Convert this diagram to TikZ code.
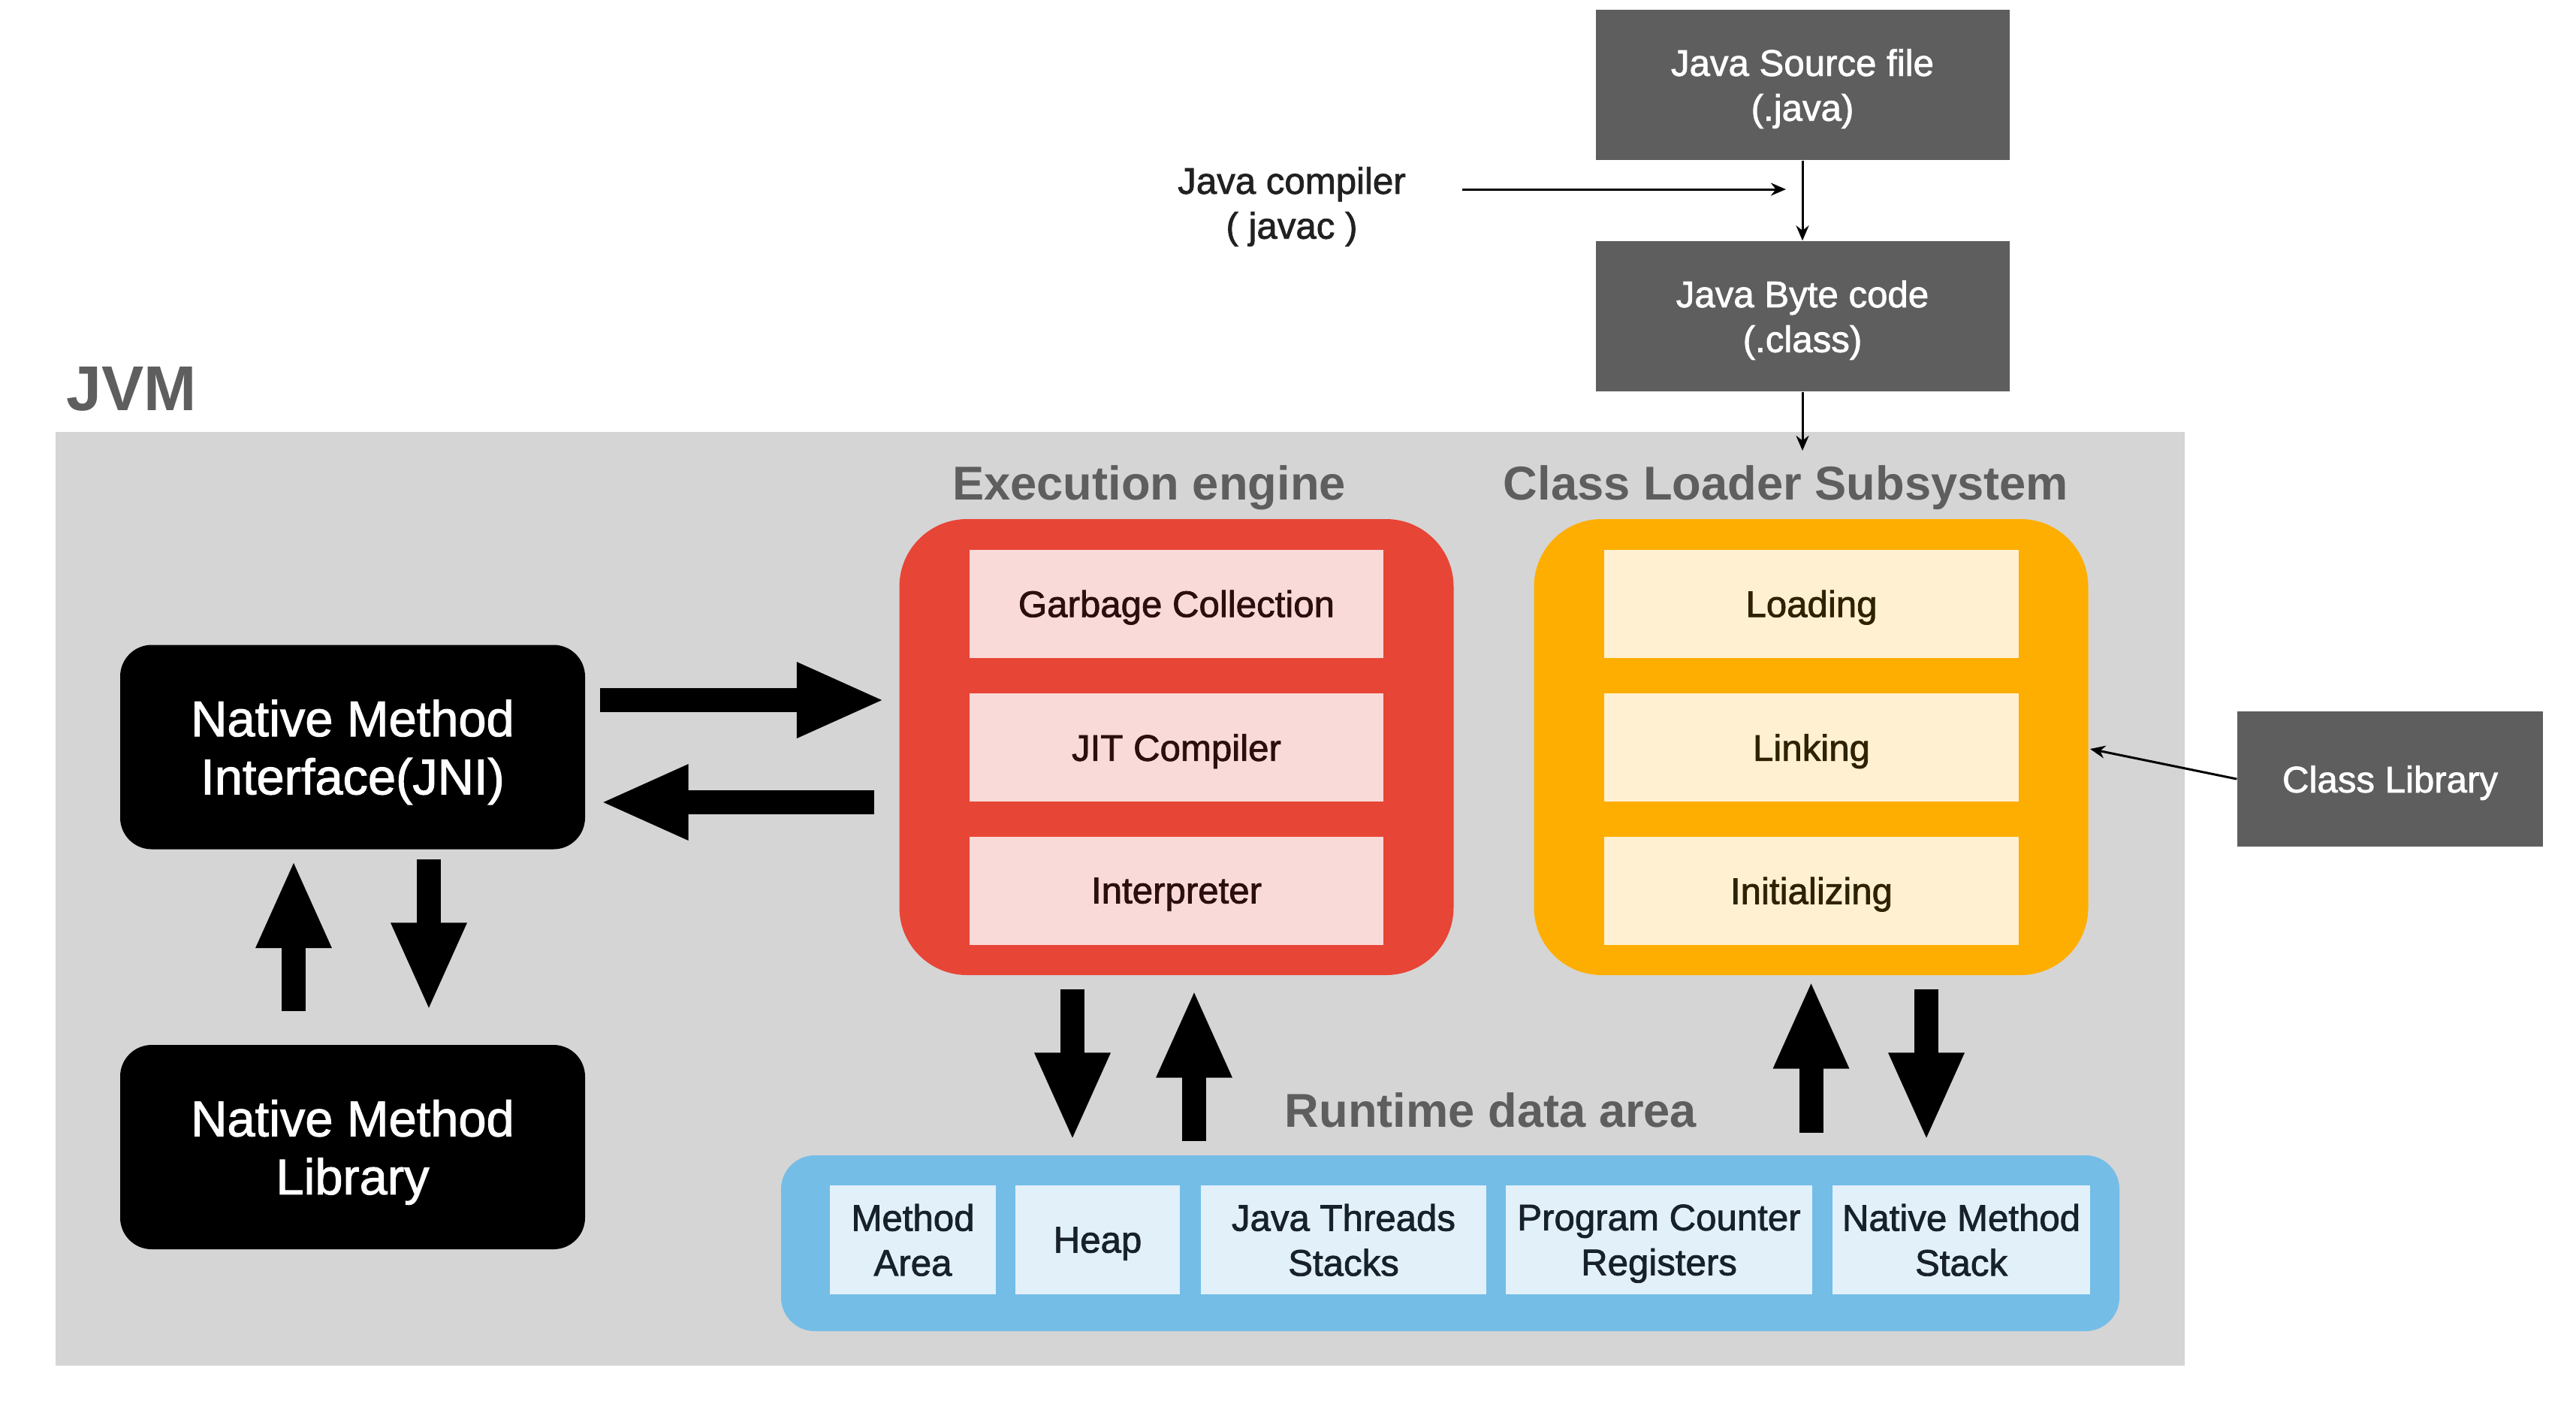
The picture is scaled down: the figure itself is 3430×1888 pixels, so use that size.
\documentclass[tikz,border=0pt]{standalone}
\usepackage{fontspec}
\setmainfont{Liberation Sans}
\newfontfamily\medfont{Liberation Sans}[FakeBold=1.6]
\usetikzlibrary{arrows.meta}

\definecolor{jvmgray}{HTML}{D5D5D5}
\definecolor{boxgray}{HTML}{5E5E5E}
\definecolor{engred}{HTML}{E74536}
\definecolor{engpink}{HTML}{F9DAD8}
\definecolor{engtext}{HTML}{2B0F0E}
\definecolor{ldrorange}{HTML}{FEAE00}
\definecolor{ldrcream}{HTML}{FFF0D2}
\definecolor{ldrtext}{HTML}{2E2200}
\definecolor{rdablue}{HTML}{74BDE7}
\definecolor{rdalight}{HTML}{E2F0F9}
\definecolor{rdatext}{HTML}{17212B}

\tikzset{
  boxtext/.style={font=\medfont\fontsize{14}{17}\selectfont, text depth=0pt},
  srcbox/.style={boxtext, fill=boxgray, text=white, align=center, inner sep=0pt, minimum width=5.51cm, minimum height=2cm},
  natbox/.style={fill=black, text=white, rounded corners=0.42cm, font=\medfont\fontsize{19}{22}\selectfont, text depth=0pt, align=center, inner sep=0pt, minimum width=6.19cm, minimum height=2.72cm},
  unitbox/.style={rounded corners=0.9cm, inner sep=0pt, minimum width=7.38cm, minimum height=6.07cm},
  engitem/.style={boxtext, fill=engpink, text=engtext, inner sep=0pt, minimum width=5.51cm, minimum height=1.44cm},
  ldritem/.style={boxtext, fill=ldrcream, text=ldrtext, inner sep=0pt, minimum width=5.52cm, minimum height=1.44cm},
  rdaitem/.style={boxtext, fill=rdalight, text=rdatext, align=center, inner sep=0pt, minimum height=1.45cm},
  title/.style={font=\fontsize{18}{22}\selectfont\bfseries, text=boxgray, anchor=base, inner sep=0pt},
  bigarrow/.style={line width=0.32cm, -{Triangle[length=1.18cm,width=0.92cm]}},
  thin/.style={line width=0.03cm, ->},
}

\begin{document}
\begin{tikzpicture}[x=0.1mm,y=-0.1mm,>={Stealth[length=0.2cm,width=0.17cm]}]
\useasboundingbox (0,0) rectangle (3430,1888);

% compile step
\node[srcbox] (src) at (2400,113) {Java Source file\\(.java)};
\node[srcbox] (byte) at (2400,421) {Java Byte code\\(.class)};
\node[boxtext, text=black!87, align=center, inner sep=0pt] (javac) at (1720,270) {Java compiler\\( javac )};
\coordinate (compin) at (2378,252);
\coordinate (ldrin) at (2400,600);
\draw[thin] (src.south) -- (byte.north);
\draw[thin] ([xshift=0.74cm]javac.east |- compin) -- (compin);

% JVM
\node[font=\fontsize{24}{28}\selectfont\bfseries, text=boxgray, anchor=base west, inner sep=0pt] (jvm) at (88,546) {JVM};
\fill[jvmgray] (74,575) rectangle (2909,1818);
\draw[thin] (byte.south) -- (byte.south |- ldrin);

% execution engine
\node[title] (engtitle) at (1530,665) {Execution engine};
\node[unitbox, fill=engred] (eng) at (1566.5,994.5) {};
\node[engitem] (gc) at (1566.5,803.5) {Garbage Collection};
\node[engitem] (jit) at (1566.5,995) {JIT Compiler};
\node[engitem] (interp) at (1566.5,1185.5) {Interpreter};

% class loader
\node[title] (ldrtitle) at (2378,665) {Class Loader Subsystem};
\node[unitbox, fill=ldrorange] (ldr) at (2411.5,994.5) {};
\node[ldritem] (load) at (2412,803.5) {Loading};
\node[ldritem] (link) at (2412,995) {Linking};
\node[ldritem] (init) at (2412,1185.5) {Initializing};

\node[srcbox, minimum width=4.07cm, minimum height=1.8cm] (clib) at (3182.5,1037) {Class Library};
\coordinate (clin) at (2783,997);
\draw[thin] (clib.west) -- (clin);

% native side
\node[natbox] (nmi) at (469.5,994.5) {Native Method\\Interface(JNI)};
\node[natbox] (nml) at (469.5,1527) {Native Method\\Library};

% runtime data area
\node[title] (rdatitle) at (1985,1500) {Runtime data area};
\node[fill=rdablue, rounded corners=0.45cm, inner sep=0pt, minimum width=17.82cm, minimum height=2.34cm] (rda) at (1931,1655) {};
\node[rdaitem, minimum width=2.21cm] (marea) at (1215.5,1650.5) {Method\\Area};
\node[rdaitem, minimum width=2.19cm] (heap) at (1461.5,1650.5) {Heap};
\node[rdaitem, minimum width=3.80cm] (jts) at (1789,1650.5) {Java Threads\\Stacks};
\node[rdaitem, minimum width=4.08cm] (pcr) at (2209,1650.5) {Program Counter\\Registers};
\node[rdaitem, minimum width=3.43cm] (nms) at (2611.5,1650.5) {Native Method\\Stack};

% block arrows
\draw[bigarrow, shorten <=0.19cm, shorten >=0.18cm] ([yshift=0.625cm]nmi.east) -- ([yshift=0.625cm]eng.west);
\draw[bigarrow, shorten <=0.33cm, shorten >=0.19cm] ([yshift=-0.735cm]eng.west) -- ([yshift=-0.735cm]nmi.east);
\draw[bigarrow, shorten <=0.44cm, shorten >=0.13cm] ([xshift=-0.785cm]nml.north) -- ([xshift=-0.785cm]nmi.south);
\draw[bigarrow, shorten <=0.13cm, shorten >=0.44cm] ([xshift=1.015cm]nmi.south) -- ([xshift=1.015cm]nml.north);
\draw[bigarrow, shorten <=0.18cm, shorten >=0.18cm] ([xshift=-1.385cm]eng.south) -- ([xshift=-1.385cm]eng.south |- rda.north);
\draw[bigarrow, shorten <=0.18cm, shorten >=0.18cm] ([xshift=0.235cm]eng.south |- rda.north) -- ([xshift=0.235cm]eng.south);
\draw[bigarrow, shorten <=0.29cm, shorten >=0.06cm] (ldr.south |- rda.north) -- (ldr.south);
\draw[bigarrow, shorten <=0.18cm, shorten >=0.18cm] ([xshift=1.535cm]ldr.south) -- ([xshift=1.535cm]ldr.south |- rda.north);
\end{tikzpicture}
\end{document}
